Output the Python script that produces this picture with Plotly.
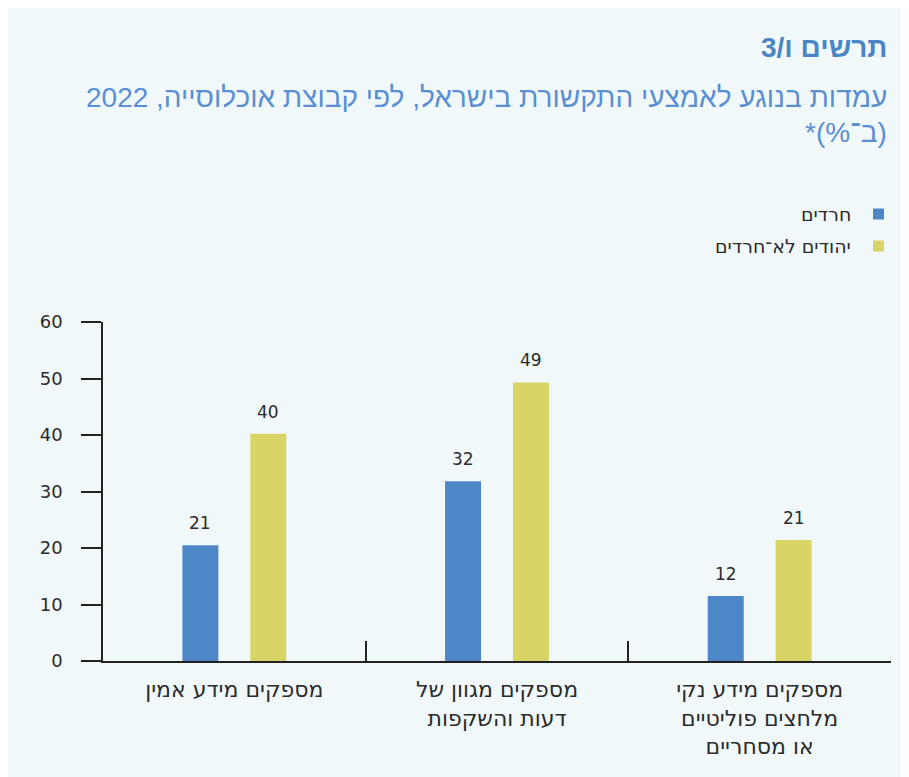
import plotly.graph_objects as go

# data (percent)
categories = ["מספקים מידע אמין", "מספקים מגוון של<br>דעות והשקפות", "מספקים מידע נקי<br>מלחצים פוליטיים<br>או מסחריים"]
series_names = ["חרדים", "יהודים לא־חרדים"]
haredi = [20.5, 31.8, 11.5]
non_haredi = [40.2, 49.3, 21.4]
haredi_labels = ["21", "32", "12"]
non_haredi_labels = ["40", "49", "21"]
colors = ["#4D87C7", "#D8D466"]

RLM = "\u200f"
OFF = 8  # page margin around the figure
W, H = 909, 777
L, R, T, B = 95, 26, 314, 124
PW, PH = W - L - R, H - T - B


# page pixel -> paper coordinate
def px_x(p):
    return (p - OFF - L) / PW


def px_y(p):
    return (H - B - (p - OFF)) / PH


num_font = "DejaVu Sans, Liberation Sans, sans-serif"
heb_font = "DejaVu Sans, Liberation Sans, sans-serif"
title_font = "Liberation Sans, DejaVu Sans, sans-serif"

fig = go.Figure()
fig.add_trace(go.Bar(x=categories, y=haredi, name=series_names[0], marker_color=colors[0], marker_line_width=0))
fig.add_trace(go.Bar(x=categories, y=non_haredi, name=series_names[1], marker_color=colors[1], marker_line_width=0))

# value labels above the bars
for vals, labels, shift in [(haredi, haredi_labels, -34), (non_haredi, non_haredi_labels, 34)]:
    for c, v, t in zip(categories, vals, labels):
        fig.add_annotation(x=c, y=v, text=t, showarrow=False, xshift=shift, yshift=10,
                           yanchor="bottom", font=dict(size=17, color="#2b2b2b", family=num_font))

# titles
fig.add_annotation(xref="paper", yref="paper", x=px_x(889), y=px_y(47), text=RLM + "<b>תרשים ו/3</b>" + RLM,
                   showarrow=False, xanchor="right", yanchor="middle",
                   font=dict(size=28, color="#4A86C5", family=title_font))
fig.add_annotation(xref="paper", yref="paper", x=px_x(889), y=px_y(97),
                   text=RLM + "עמדות בנוגע לאמצעי התקשורת בישראל, לפי קבוצת אוכלוסייה, 2022" + RLM,
                   showarrow=False, xanchor="right", yanchor="middle",
                   font=dict(size=28, color="#5A8FD2", family=title_font))
fig.add_annotation(xref="paper", yref="paper", x=px_x(889), y=px_y(132), text=RLM + "(ב־%)*" + RLM,
                   showarrow=False, xanchor="right", yanchor="middle",
                   font=dict(size=28, color="#5A8FD2", family=title_font))

# legend drawn right-to-left (square on the right)
for i, (name, col) in enumerate(zip(series_names, colors)):
    cy = 214 + 32 * i
    fig.add_shape(type="rect", xref="paper", yref="paper", x0=px_x(873), x1=px_x(884),
                  y0=px_y(cy + 5.5), y1=px_y(cy - 5.5), fillcolor=col, line_width=0)
    fig.add_annotation(xref="paper", yref="paper", x=px_x(853), y=px_y(cy), text=name,
                       showarrow=False, xanchor="right", yanchor="middle",
                       font=dict(size=19, color="#2b2b2b", family=heb_font))

fig.update_layout(
    width=W, height=H,
    margin=dict(l=L, r=R, t=T, b=B),
    paper_bgcolor="#F1F8FA", plot_bgcolor="#F1F8FA",
    barmode="group", bargap=0.483, bargroupgap=0.47,
    showlegend=False,
    font=dict(family=heb_font, size=17, color="#2b2b2b"),
)
fig.update_xaxes(showline=True, linecolor="#222", linewidth=1.5, ticks="inside", tickson="boundaries",
                 ticklen=20, tickwidth=1.5, tickcolor="#222", showgrid=False,
                 tickfont=dict(size=22, color="#2b2b2b", family=heb_font), ticklabelstandoff=8)
fig.update_yaxes(range=[0, 60], tickvals=[0, 10, 20, 30, 40, 50, 60], showline=True, linecolor="#222",
                 linewidth=1.5, ticks="outside", ticklen=20, tickwidth=1.5, tickcolor="#222",
                 showgrid=False, zeroline=False, tickfont=dict(size=18, color="#2b2b2b", family=num_font),
                 ticklabelstandoff=15)

fig.write_html("out.html")
